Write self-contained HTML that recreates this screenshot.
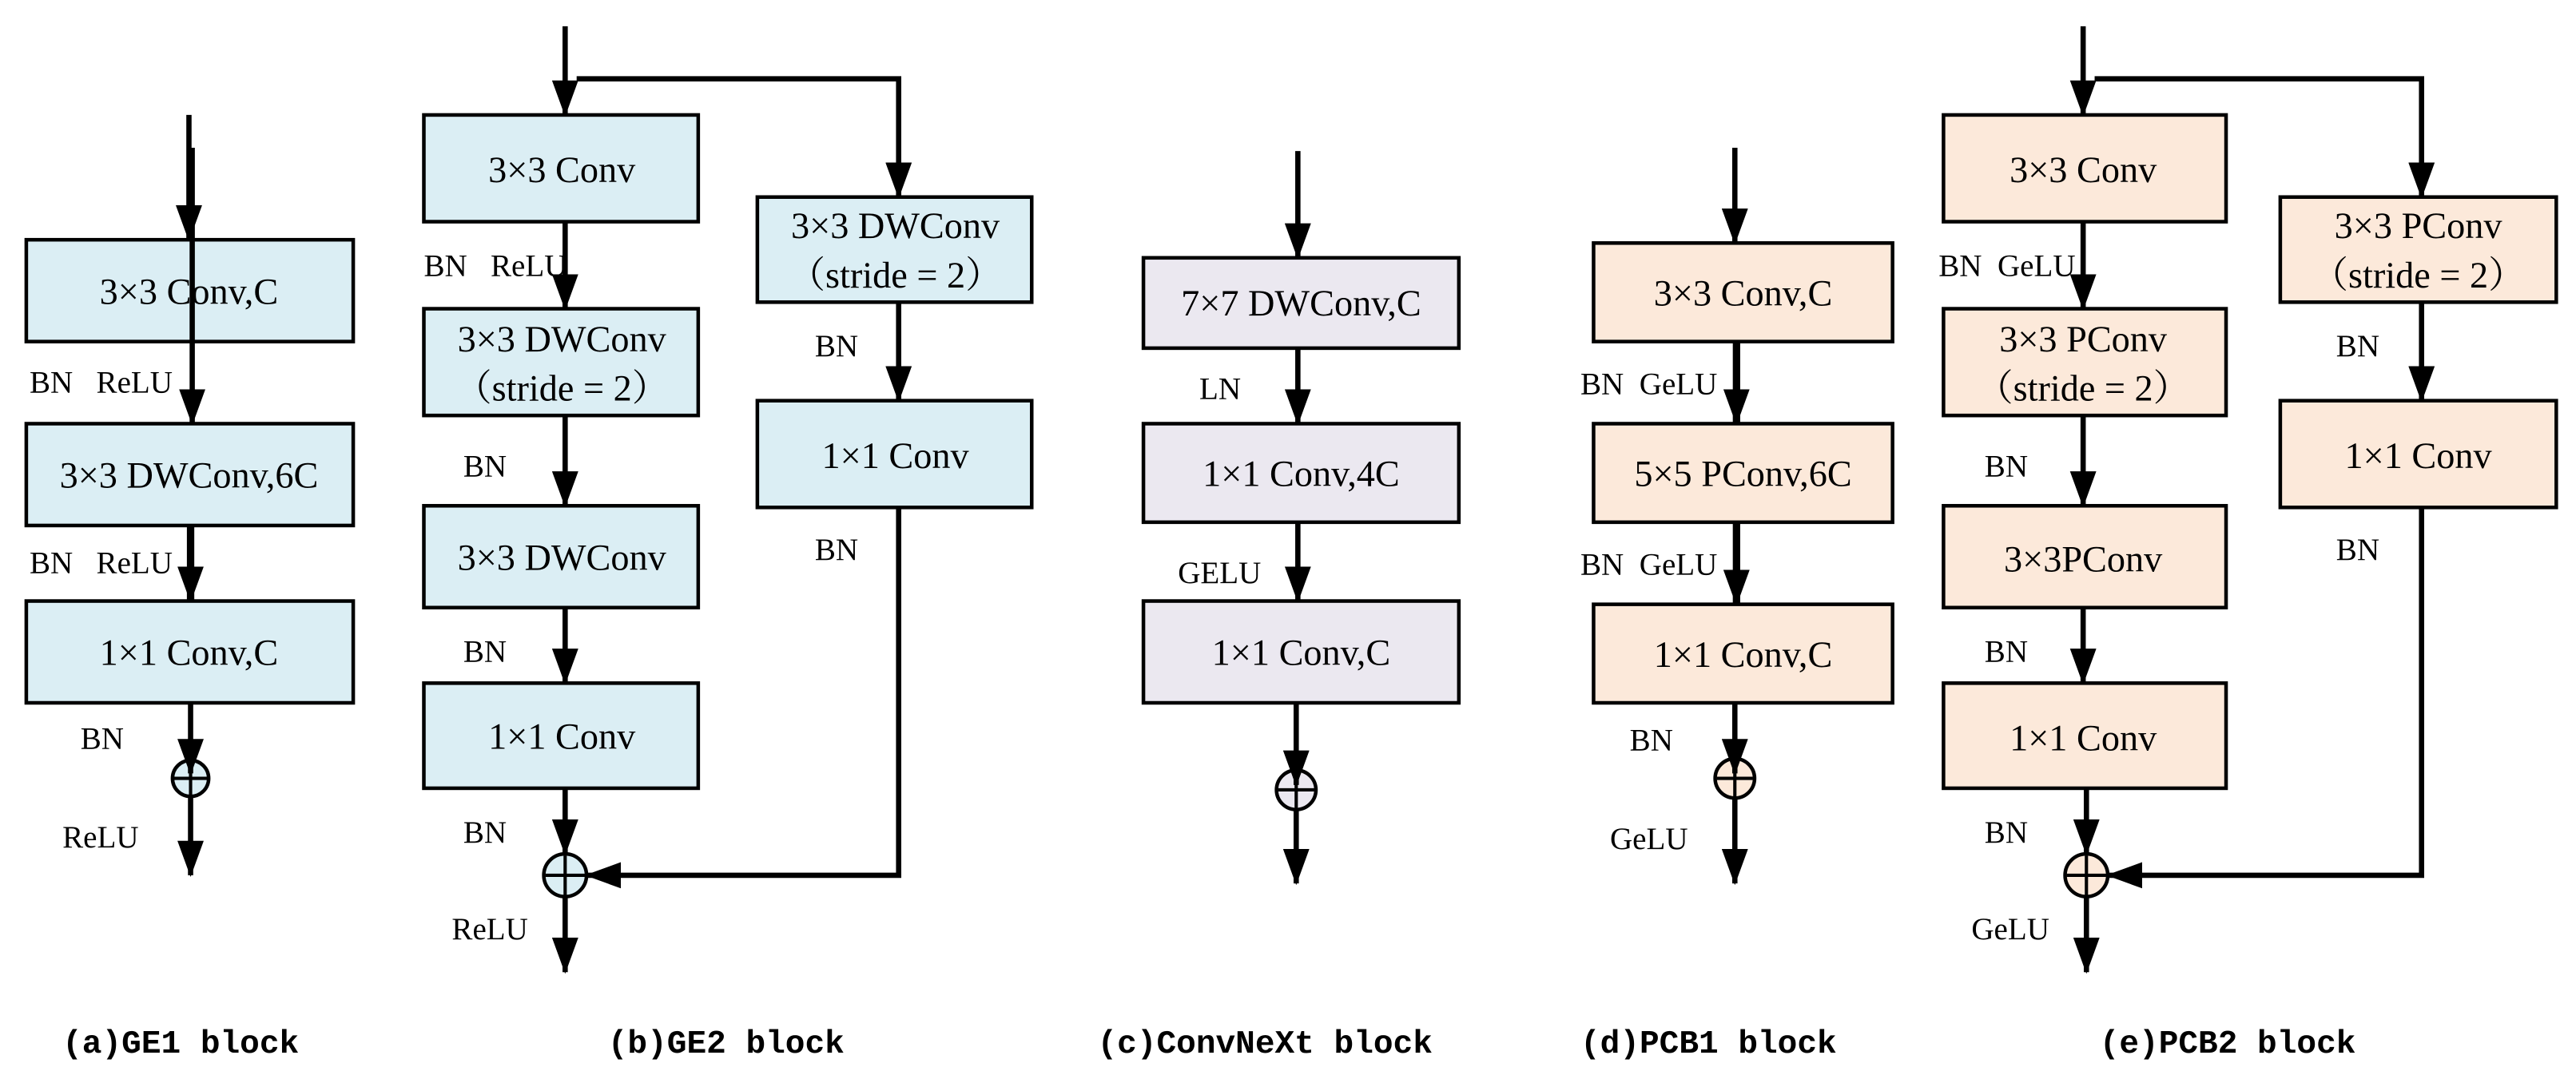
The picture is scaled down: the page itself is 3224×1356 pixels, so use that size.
<!DOCTYPE html>
<html><head><meta charset="utf-8"><style>
html,body{margin:0;padding:0;background:#fff;}
svg{display:block;}
.bx{stroke:#000;stroke-width:2.2;}
.b{fill:#dbeef4}.l{fill:#ebe8f0}.p{fill:#fce9da}
.t{font-family:"Liberation Serif","Noto Serif CJK SC",serif;font-size:22.5px;text-anchor:middle;fill:#000;}
.s{font-family:"Liberation Serif",serif;font-size:19px;fill:#000;white-space:pre;}
.c{font-family:"Liberation Mono",monospace;font-size:20px;font-weight:bold;fill:#000;}
.ln{stroke:#000;stroke-width:3.2;fill:none;}
</style></head><body>
<svg width="3224" height="1356" viewBox="0 0 1568 659.5" xmlns="http://www.w3.org/2000/svg">
<defs>
<marker id="a" markerUnits="userSpaceOnUse" markerWidth="22" markerHeight="16" refX="21" refY="8" orient="auto" viewBox="0 0 22 16">
<path d="M0,0 L22,8 L0,16 Z" fill="#000"/></marker>
</defs>

<!-- (a) -->
<line class="ln" x1="115" y1="70" x2="115" y2="146" marker-end="url(#a)"/>
<rect class="bx b" x="16" y="146" width="199" height="62"/>
<text class="t" x="115" y="185">3×3 Conv,C</text>
<line class="ln" x1="117" y1="90" x2="117" y2="258" marker-end="url(#a)"/>
<text class="s" x="18" y="239">BN   ReLU</text>
<rect class="bx b" x="16" y="258" width="199" height="62"/>
<text class="t" x="115" y="297">3×3 DWConv,6C</text>
<line class="ln" x1="116" y1="320" x2="116" y2="366" marker-end="url(#a)" style="stroke-width:4.5"/>
<text class="s" x="18" y="349">BN   ReLU</text>
<rect class="bx b" x="16" y="366" width="199" height="62"/>
<text class="t" x="115" y="405">1×1 Conv,C</text>
<text class="s" x="49" y="456">BN</text>
<circle cx="116" cy="474" r="11" fill="#dbeef4" stroke="#000" stroke-width="2.2"/>
<path d="M106,474 H126 M116,466 V484" stroke="#000" stroke-width="2"/>
<line class="ln" x1="116" y1="428" x2="116" y2="471" marker-end="url(#a)"/>
<line class="ln" x1="116" y1="485" x2="116" y2="533" marker-end="url(#a)"/>
<text class="s" x="38" y="516">ReLU</text>
<text class="c" x="38" y="641">(a)GE1 block</text>

<!-- (b) -->
<line class="ln" x1="344" y1="16" x2="344" y2="70" marker-end="url(#a)"/>
<polyline class="ln" points="351,48 547,48 547,120" marker-end="url(#a)"/>
<rect class="bx b" x="258" y="70" width="167" height="65"/>
<text class="t" x="342" y="111">3×3 Conv</text>
<line class="ln" x1="344" y1="135" x2="344" y2="188" marker-end="url(#a)"/>
<text class="s" x="258" y="168">BN   ReLU</text>
<rect class="bx b" x="258" y="188" width="167" height="65"/>
<text class="t" x="342" y="214">3×3 DWConv</text>
<text class="t" x="342" y="244">（stride = 2）</text>
<line class="ln" x1="344" y1="253" x2="344" y2="308" marker-end="url(#a)"/>
<text class="s" x="282" y="290">BN</text>
<rect class="bx b" x="258" y="308" width="167" height="62"/>
<text class="t" x="342" y="347">3×3 DWConv</text>
<line class="ln" x1="344" y1="370" x2="344" y2="416" marker-end="url(#a)"/>
<text class="s" x="282" y="403">BN</text>
<rect class="bx b" x="258" y="416" width="167" height="64"/>
<text class="t" x="342" y="456">1×1 Conv</text>
<line class="ln" x1="344" y1="480" x2="344" y2="520" marker-end="url(#a)"/>
<text class="s" x="282" y="513">BN</text>
<circle cx="344" cy="533" r="13" fill="#dbeef4" stroke="#000" stroke-width="2.2"/>
<path d="M332,533 H356 M344,521 V545" stroke="#000" stroke-width="2"/>
<line class="ln" x1="344" y1="546" x2="344" y2="592" marker-end="url(#a)"/>
<text class="s" x="275" y="572">ReLU</text>
<rect class="bx b" x="461" y="120" width="167" height="64"/>
<text class="t" x="545" y="145">3×3 DWConv</text>
<text class="t" x="545" y="175">（stride = 2）</text>
<line class="ln" x1="547" y1="184" x2="547" y2="244" marker-end="url(#a)"/>
<text class="s" x="496" y="217">BN</text>
<rect class="bx b" x="461" y="244" width="167" height="65"/>
<text class="t" x="545" y="285">1×1 Conv</text>
<text class="s" x="496" y="341">BN</text>
<polyline class="ln" points="547,309 547,533 357,533" marker-end="url(#a)"/>
<text class="c" x="370" y="641">(b)GE2 block</text>

<!-- (c) -->
<line class="ln" x1="790" y1="92" x2="790" y2="157" marker-end="url(#a)"/>
<rect class="bx l" x="696" y="157" width="192" height="55"/>
<text class="t" x="792" y="192">7×7  DWConv,C</text>
<line class="ln" x1="790" y1="212" x2="790" y2="258" marker-end="url(#a)"/>
<text class="s" x="730" y="243">LN</text>
<rect class="bx l" x="696" y="258" width="192" height="60"/>
<text class="t" x="792" y="296">1×1 Conv,4C</text>
<line class="ln" x1="790" y1="318" x2="790" y2="366" marker-end="url(#a)"/>
<text class="s" x="717" y="355">GELU</text>
<rect class="bx l" x="696" y="366" width="192" height="62"/>
<text class="t" x="792" y="405">1×1 Conv,C</text>
<circle cx="789" cy="481" r="12" fill="#ebe8f0" stroke="#000" stroke-width="2.2"/>
<path d="M778,481 H800 M789,470 V492" stroke="#000" stroke-width="2"/>
<line class="ln" x1="789" y1="428" x2="789" y2="478" marker-end="url(#a)"/>
<line class="ln" x1="789" y1="493" x2="789" y2="538" marker-end="url(#a)"/>
<text class="c" x="668" y="641">(c)ConvNeXt block</text>

<!-- (d) -->
<line class="ln" x1="1056" y1="90" x2="1056" y2="148" marker-end="url(#a)"/>
<rect class="bx p" x="970" y="148" width="182" height="60"/>
<text class="t" x="1061" y="186">3×3 Conv,C</text>
<line class="ln" x1="1057" y1="208" x2="1057" y2="258" marker-end="url(#a)" style="stroke-width:4.5"/>
<text class="s" x="962" y="240">BN  GeLU</text>
<rect class="bx p" x="970" y="258" width="182" height="60"/>
<text class="t" x="1061" y="296">5×5 PConv,6C</text>
<line class="ln" x1="1057" y1="318" x2="1057" y2="368" marker-end="url(#a)" style="stroke-width:4.5"/>
<text class="s" x="962" y="350">BN  GeLU</text>
<rect class="bx p" x="970" y="368" width="182" height="60"/>
<text class="t" x="1061" y="406">1×1 Conv,C</text>
<text class="s" x="992" y="457">BN</text>
<circle cx="1056" cy="474" r="12" fill="#fce9da" stroke="#000" stroke-width="2.2"/>
<path d="M1045,474 H1067 M1056,463 V485" stroke="#000" stroke-width="2"/>
<line class="ln" x1="1056" y1="428" x2="1056" y2="471" marker-end="url(#a)"/>
<line class="ln" x1="1056" y1="486" x2="1056" y2="538" marker-end="url(#a)"/>
<text class="s" x="980" y="517">GeLU</text>
<text class="c" x="962" y="641">(d)PCB1 block</text>

<!-- (e) -->
<line class="ln" x1="1268" y1="16" x2="1268" y2="70" marker-end="url(#a)"/>
<polyline class="ln" points="1275,48 1474,48 1474,120" marker-end="url(#a)"/>
<rect class="bx p" x="1183" y="70" width="172" height="65"/>
<text class="t" x="1268" y="111">3×3 Conv</text>
<line class="ln" x1="1268" y1="135" x2="1268" y2="188" marker-end="url(#a)"/>
<text class="s" x="1180" y="168">BN  GeLU</text>
<rect class="bx p" x="1183" y="188" width="172" height="65"/>
<text class="t" x="1268" y="214">3×3 PConv</text>
<text class="t" x="1268" y="244">（stride = 2）</text>
<line class="ln" x1="1268" y1="253" x2="1268" y2="308" marker-end="url(#a)"/>
<text class="s" x="1208" y="290">BN</text>
<rect class="bx p" x="1183" y="308" width="172" height="62"/>
<text class="t" x="1268" y="348">3×3PConv</text>
<line class="ln" x1="1268" y1="370" x2="1268" y2="416" marker-end="url(#a)"/>
<text class="s" x="1208" y="403">BN</text>
<rect class="bx p" x="1183" y="416" width="172" height="64"/>
<text class="t" x="1268" y="457">1×1 Conv</text>
<line class="ln" x1="1270" y1="480" x2="1270" y2="520" marker-end="url(#a)"/>
<text class="s" x="1208" y="513">BN</text>
<circle cx="1270" cy="533" r="13" fill="#fce9da" stroke="#000" stroke-width="2.2"/>
<path d="M1258,533 H1282 M1270,521 V545" stroke="#000" stroke-width="2"/>
<line class="ln" x1="1270" y1="546" x2="1270" y2="592" marker-end="url(#a)"/>
<text class="s" x="1200" y="572">GeLU</text>
<rect class="bx p" x="1388" y="120" width="168" height="64"/>
<text class="t" x="1472" y="145">3×3 PConv</text>
<text class="t" x="1472" y="175">（stride = 2）</text>
<line class="ln" x1="1474" y1="184" x2="1474" y2="244" marker-end="url(#a)"/>
<text class="s" x="1422" y="217">BN</text>
<rect class="bx p" x="1388" y="244" width="168" height="65"/>
<text class="t" x="1472" y="285">1×1 Conv</text>
<text class="s" x="1422" y="341">BN</text>
<polyline class="ln" points="1474,309 1474,533 1283,533" marker-end="url(#a)"/>
<text class="c" x="1278" y="641">(e)PCB2 block</text>
</svg>
</body></html>
